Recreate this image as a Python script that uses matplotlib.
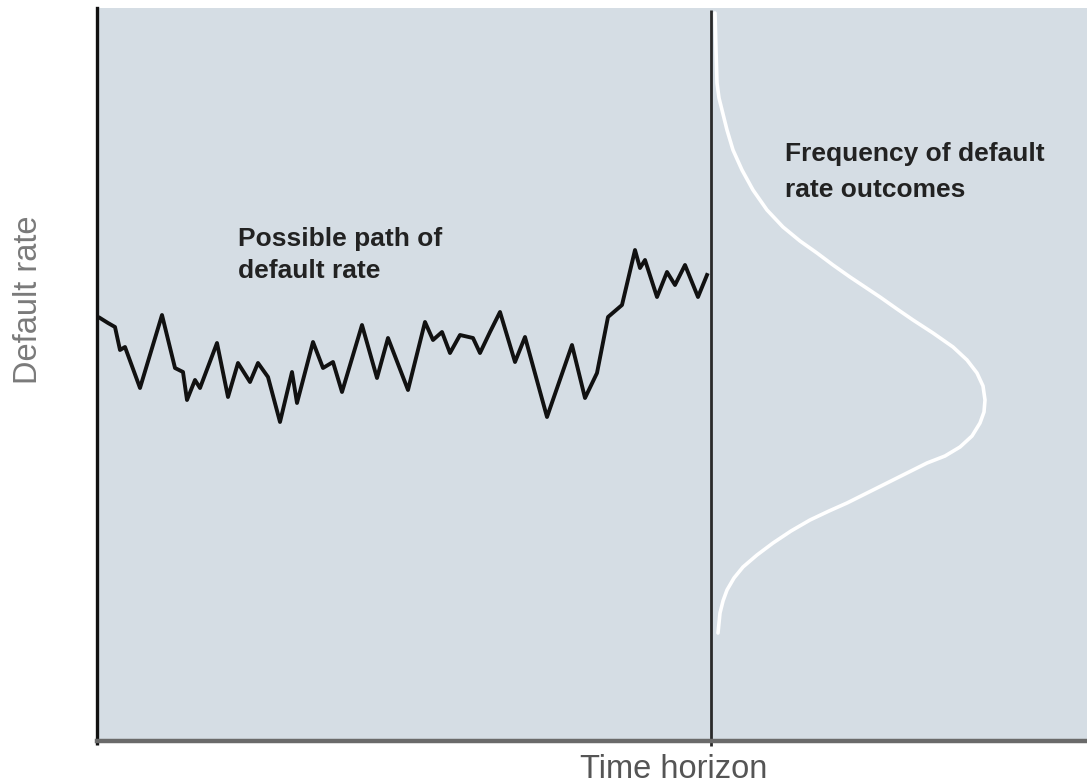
import matplotlib
matplotlib.use("Agg")
import matplotlib.pyplot as plt

# ---- data (arbitrary units) ----
path_time = [3, 11, 18, 23, 28, 43, 65, 78, 86, 90, 98, 103, 120, 131, 141, 153, 161, 171,
             183, 195, 200, 216, 226, 236, 245, 265, 280, 291, 311, 328, 336, 345, 353,
             363, 376, 383, 393, 403, 418, 428, 450, 475, 488, 500, 511, 525, 538, 543,
             548, 560, 570, 578, 588, 601, 610]
path_rate = [423, 418, 414, 391, 394, 353, 426, 373, 369, 341, 361, 353, 398, 344, 378,
             359, 378, 364, 319, 369, 338, 399, 373, 379, 349, 416, 363, 403, 351, 419,
             401, 409, 388, 406, 403, 388, 409, 429, 379, 404, 324, 396, 343, 368, 424,
             436, 491, 473, 481, 444, 469, 456, 476, 444, 466]

dist_freq = [618, 619, 620, 622, 625, 630, 636, 645, 656, 670, 686, 703, 720, 736, 753,
             768, 783, 800, 816, 836, 856, 870, 880, 886, 888, 887, 883, 875, 863, 848,
             830, 810, 790, 770, 750, 732, 713, 694, 676, 660, 646, 637, 630, 626, 623,
             622, 621]
dist_rate = [728, 691, 658, 643, 631, 611, 591, 571, 551, 531, 514, 500, 488, 476, 464,
             454, 444, 432, 421, 408, 394, 381, 368, 355, 341, 329, 318, 305, 294, 285,
             278, 268, 258, 248, 238, 230, 221, 210, 198, 186, 174, 163, 151, 140, 128,
             118, 108]

horizon_time = 614
x_label = "Time horizon"
y_label = "Default rate"
path_note = "Possible path of\ndefault rate"
dist_note = "Frequency of default\nrate outcomes"

W, H = 1087, 783
fig = plt.figure(figsize=(W / 100, H / 100), dpi=100)
fig.patch.set_facecolor("white")
ax = fig.add_axes([97 / W, 1 - 741 / H, 1 - 97 / W, (741 - 8) / H])
ax.set_facecolor("#d5dde4")
ax.set_xlim(0, 990)
ax.set_ylim(0, 733)

for s in ["top", "right"]:
    ax.spines[s].set_visible(False)
ax.spines["left"].set_color("#111111")
ax.spines["left"].set_linewidth(2.4)
ax.spines["bottom"].set_color("#6a6a6a")
ax.spines["bottom"].set_linewidth(3.2)
ax.set_xticks([])
ax.set_yticks([])

# horizon line
ax.plot([horizon_time, horizon_time], [-5, 731], color="#2a2a2a", lw=2.0,
        clip_on=False, solid_capstyle="butt")
ax.plot([0, 0], [-4, 0], color="#111111", lw=2.4, clip_on=False, solid_capstyle="butt")

# path
ax.plot(path_time, path_rate, color="#111111", lw=2.8, solid_joinstyle="round")

# distribution
ax.plot(dist_freq, dist_rate, color="white", lw=2.6, solid_joinstyle="round",
        solid_capstyle="round")

ax.text(141, 486, path_note, fontsize=19, fontweight="bold", color="#222222",
        family="Liberation Sans", va="center", ha="left", linespacing=1.45)
ax.text(688, 569, dist_note, fontsize=19, fontweight="bold", color="#222222",
        family="Liberation Sans", va="center", ha="left", linespacing=1.6)

fig.text(674 / W, 1 - 769 / H, x_label, fontsize=23.5, color="#555555",
         family="Liberation Sans", ha="center", va="center")
fig.text(29 / W, 1 - 300 / H, y_label, fontsize=23.5, color="#7a7a7a",
         family="Liberation Sans", ha="center", va="center", rotation=90)

fig.savefig("out.png", dpi=100)
